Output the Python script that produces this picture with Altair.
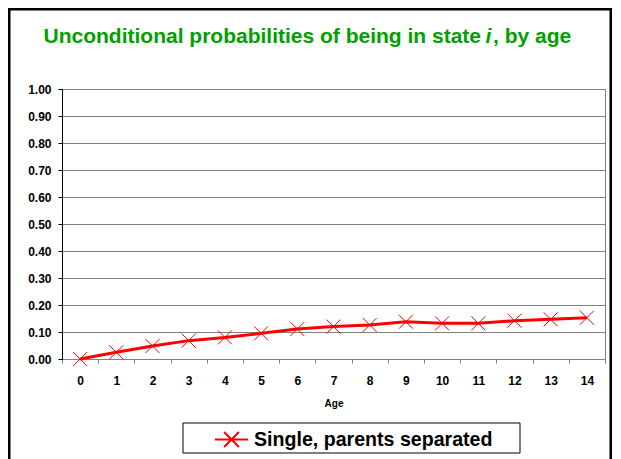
import altair as alt
import pandas as pd

# ---- data ----
ages = [0, 1, 2, 3, 4, 5, 6, 7, 8, 9, 10, 11, 12, 13, 14]
probs = [0.000, 0.025, 0.048, 0.068, 0.080, 0.095, 0.111, 0.120, 0.126,
         0.138, 0.132, 0.132, 0.142, 0.147, 0.153]
series_name = "Single, parents separated"
title_parts = ["Unconditional probabilities of being in state", "i", ", by age"]
y_ticks = [0.0, 0.1, 0.2, 0.3, 0.4, 0.5, 0.6, 0.7, 0.8, 0.9, 1.0]
x_ticks = [-0.5, 0, 0.5, 1, 1.5, 2, 2.5, 3, 3.5, 4, 4.5, 5, 5.5, 6, 6.5, 7, 7.5,
           8, 8.5, 9, 9.5, 10, 10.5, 11, 11.5, 12, 12.5, 13, 13.5, 14, 14.5]

df = pd.DataFrame({"Age": ages, "P": probs, "series": [series_name] * len(ages)})
one = pd.DataFrame({"k": [0]})

FONT = "Liberation Sans"
RED = "#FF0000"
GREEN = "#00A000"
GRAY = "#808080"
XPATH = "M-1,-1L1,1M-1,1L1,-1"
LEGPATH = "M-1,0L1,0M-0.45,-0.45L0.45,0.45M-0.45,0.45L0.45,-0.45"

x_enc = alt.X(
    "Age:Q",
    scale=alt.Scale(domain=[-0.5, 14.5], nice=False, zero=False),
    axis=alt.Axis(
        values=x_ticks,
        labelExpr="datum.value % 1 === 0 ? datum.value : ''",
        tickOpacity={"condition": {"test": "datum.value % 1 === 0", "value": 0}, "value": 1},
        tickSize=4,
        tickColor=GRAY,
        domainColor=GRAY,
        grid=False,
        labelOverlap=False,
        labelFlush=False,
        labelFont=FONT,
        labelFontSize=12,
        labelFontWeight="bold",
        labelColor="black",
        labelPadding=12,
        title="Age",
        titleFont=FONT,
        titleFontSize=10,
        titleFontWeight="bold",
        titleColor="black",
        titlePadding=12,
    ),
)
y_enc = alt.Y(
    "P:Q",
    scale=alt.Scale(domain=[0, 1], nice=False),
    axis=alt.Axis(
        values=y_ticks,
        format=".2f",
        grid=True,
        gridColor=GRAY,
        gridWidth=1,
        tickSize=4,
        tickColor="black",
        domainColor="black",
        labelFont=FONT,
        labelFontSize=12,
        labelFontWeight="bold",
        labelColor="black",
        labelPadding=7,
        title=None,
    ),
)
color_enc = alt.Color(
    "series:N",
    scale=alt.Scale(domain=[series_name], range=[RED]),
    legend=alt.Legend(
        title=None,
        orient="none",
        legendX=152,
        legendY=333,
        symbolType=LEGPATH,
        symbolSize=1089,
        symbolStrokeWidth=2,
        symbolStrokeColor=RED,
        symbolFillColor="transparent",
        labelFont=FONT,
        labelFontSize=19.6,
        labelFontWeight="bold",
        labelColor="black",
        labelOffset=5,
        labelLimit=500,
        padding=0,
    ),
)

base = alt.Chart(df)
line = base.mark_line(strokeWidth=3).encode(x=x_enc, y=y_enc, color=color_enc)
points = base.mark_point(shape=XPATH, size=196, filled=False, strokeWidth=1, opacity=1).encode(
    x=x_enc, y=y_enc, color=color_enc
)

frame = alt.Chart(one).mark_rect(fill="white", fillOpacity=0, stroke="black", strokeWidth=2.5).encode(
    x=alt.value(-52.75), x2=alt.value(548.75), y=alt.value(-79.75), y2=alt.value(400)
)
legend_box = alt.Chart(one).mark_rect(fill="white", fillOpacity=0, stroke="black", strokeWidth=1).encode(
    x=alt.value(121), x2=alt.value(458), y=alt.value(334), y2=alt.value(364)
)

t1 = alt.Chart(one).mark_text(
    text=title_parts[0], align="right", baseline="alphabetic", font=FONT,
    fontSize=21, fontWeight="bold", color=GREEN
).encode(x=alt.value(419), y=alt.value(-46))
t2 = alt.Chart(one).mark_text(
    text=title_parts[1], align="center", baseline="alphabetic", font=FONT,
    fontSize=21, fontWeight="bold", fontStyle="italic", color=GREEN
).encode(x=alt.value(426.5), y=alt.value(-46))
t3 = alt.Chart(one).mark_text(
    text=title_parts[2], align="left", baseline="alphabetic", font=FONT,
    fontSize=21, fontWeight="bold", color=GREEN
).encode(x=alt.value(431), y=alt.value(-46))

chart = alt.layer(frame, legend_box, line, points, t1, t2, t3).properties(
    width=543,
    height=270,
    padding={"left": 54, "top": 81, "right": 8, "bottom": 100},
    autosize=alt.AutoSizeParams(type="none"),
    background="white",
).configure_view(stroke=GRAY, strokeWidth=1)

chart.save("out.html", embed_options={"renderer": "svg", "actions": False})
